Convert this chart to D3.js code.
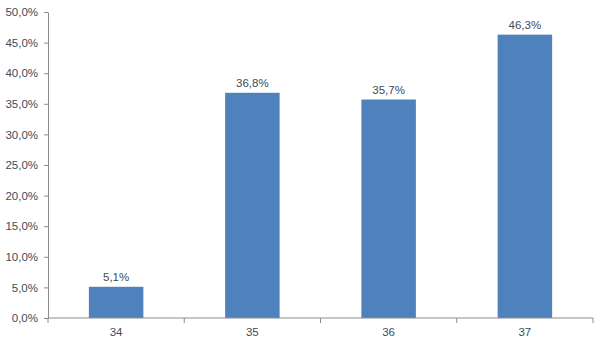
<!DOCTYPE html>
<html><head><meta charset="utf-8">
<script src="https://cdn.jsdelivr.net/npm/d3@7"></script>
<style>body{margin:0;background:#fff}svg{display:block}</style>
</head><body>
<script>
const categories = ["34","35","36","37"];
const values = [5.1, 36.8, 35.7, 46.3];
const yTicks = [0,5,10,15,20,25,30,35,40,45,50];

const W=600,H=343;
const m={left:48,right:7,top:12,bottom:25};
const svg=d3.select("body").append("svg").attr("width",W).attr("height",H);
const x=d3.scaleBand().domain(categories).range([m.left,W-m.right]).paddingInner(0.6).paddingOuter(0.3);
const y=d3.scaleLinear().domain([0,50]).range([H-m.bottom,m.top]);
const fmt=v=>v.toFixed(1).replace(".",",")+"%";
const txt="#404b5c", axc="#8c8c8c";

// y axis
const ya=svg.append("g").attr("transform",`translate(${m.left},0)`)
 .call(d3.axisLeft(y).tickValues(yTicks).tickFormat(fmt).tickSize(4).tickSizeOuter(0).tickPadding(6));
ya.select(".domain").attr("stroke",axc);
ya.selectAll(".tick line").attr("stroke",axc);
ya.selectAll("text").attr("fill",txt).style("font-family","Liberation Sans, Arial, sans-serif").style("font-size","11.5px");

// bars
svg.selectAll("rect.bar").data(values).enter().append("rect")
 .attr("x",(d,i)=>x(categories[i])).attr("width",x.bandwidth())
 .attr("y",d=>y(d)).attr("height",d=>y(0)-y(d)).attr("fill","#4f81bd");

// labels
svg.selectAll("text.lbl").data(values).enter().append("text")
 .attr("x",(d,i)=>x(categories[i])+x.bandwidth()/2).attr("y",d=>y(d)-6)
 .attr("text-anchor","middle").attr("fill",txt)
 .style("font-family","Liberation Sans, Arial, sans-serif").style("font-size","11.5px")
 .text(d=>fmt(d));

// x axis
const x0=H-m.bottom;
const g=svg.append("g");
g.append("line").attr("x1",m.left).attr("x2",W-m.right).attr("y1",x0).attr("y2",x0).attr("stroke",axc);
const step=(W-m.right-m.left)/categories.length;
d3.range(categories.length+1).forEach(i=>{
  g.append("line").attr("x1",m.left+i*step).attr("x2",m.left+i*step).attr("y1",x0).attr("y2",x0+5).attr("stroke",axc);
});
g.selectAll("text").data(categories).enter().append("text")
 .attr("x",d=>x(d)+x.bandwidth()/2).attr("y",x0+18).attr("text-anchor","middle").attr("fill",txt)
 .style("font-family","Liberation Sans, Arial, sans-serif").style("font-size","11.5px").text(d=>d);
</script>
</body></html>
